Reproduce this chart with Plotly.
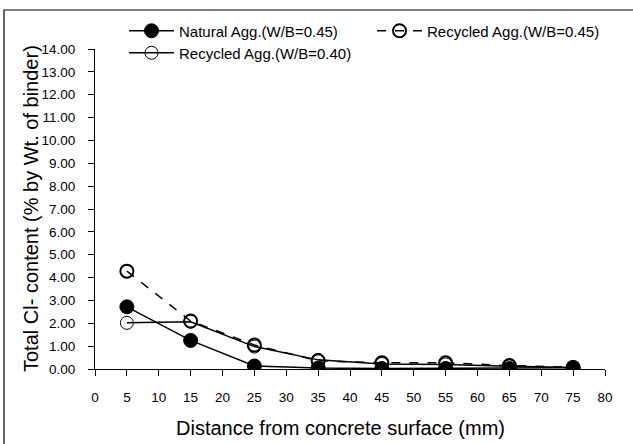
import plotly.graph_objects as go

# Depth of sampling below the concrete surface (mm)
depth_mm = [5, 15, 25, 35, 45, 55, 65, 75]

# Total chloride content (% by weight of binder)
natural_045 = [2.72, 1.25, 0.13, 0.04, 0.02, 0.02, 0.02, 0.05]
recycled_045 = [4.28, 2.10, 1.05, 0.36, 0.27, 0.27, 0.15, 0.07]
recycled_040 = [2.02, 2.07, 0.98, 0.40, 0.22, 0.20, 0.12, 0.07]

x_ticks = list(range(0, 81, 5))
y_ticks = list(range(0, 15))

x_title = "Distance from concrete surface (mm)"
y_title = "Total Cl- content (% by Wt. of binder)"

FONT = "Liberation Sans, Arial, sans-serif"

# figure size and plot-area margins in pixels
W, H = 633, 444
L, R, T, B = 95, 28, 49, 75
PW, PH = W - L - R, H - T - B


def px_x(x):
    """Pixel column -> paper x."""
    return (x - L) / PW


def px_y(y):
    """Pixel row (from top) -> paper y."""
    return (H - B - y) / PH


fig = go.Figure()

fig.add_trace(go.Scatter(
    x=depth_mm, y=natural_045, name="Natural Agg.(W/B=0.45)",
    mode="lines+markers", legend="legend",
    line=dict(color="black", width=1.5),
    marker=dict(symbol="circle", size=14, color="black",
                line=dict(color="black", width=1)),
))
fig.add_trace(go.Scatter(
    x=depth_mm, y=recycled_045, name="Recycled Agg.(W/B=0.45)",
    mode="lines+markers", legend="legend2",
    line=dict(color="black", width=1.5, dash="dash"),
    marker=dict(symbol="circle-open", size=13, color="black",
                line=dict(color="black", width=2)),
))
fig.add_trace(go.Scatter(
    x=depth_mm, y=recycled_040, name="Recycled Agg.(W/B=0.40)",
    mode="lines+markers", legend="legend3",
    line=dict(color="black", width=1.5),
    marker=dict(symbol="circle-open", size=13, color="black",
                line=dict(color="black", width=1)),
))

legend_style = dict(font=dict(family=FONT, size=15, color="black"),
                    bgcolor="rgba(0,0,0,0)", xanchor="left",
                    yanchor="middle", itemwidth=45)

fig.update_layout(
    width=W, height=H,
    margin=dict(l=L, r=R, t=T, b=B),
    paper_bgcolor="white", plot_bgcolor="white",
    font=dict(family=FONT, color="black", size=13.5),
    showlegend=True,
    legend=dict(x=px_x(124), y=px_y(31), **legend_style),
    legend2=dict(x=px_x(372), y=px_y(31), **legend_style),
    legend3=dict(x=px_x(124), y=px_y(53), **legend_style),
    xaxis=dict(
        range=[0, 80], tickvals=x_ticks, ticktext=[str(v) for v in x_ticks],
        showline=True, linecolor="black", linewidth=1,
        ticks="outside", ticklen=6, tickcolor="black",
        showgrid=False, zeroline=False, ticklabelstandoff=10,
        tickfont=dict(family=FONT, size=13.5),
    ),
    yaxis=dict(
        range=[0, 14], tickvals=y_ticks,
        ticktext=[f"{v:.2f}" for v in y_ticks],
        showline=True, linecolor="black", linewidth=1,
        ticks="outside", ticklen=6, tickcolor="black",
        showgrid=False, zeroline=False, ticklabelstandoff=10,
        tickfont=dict(family=FONT, size=13.5),
    ),
    annotations=[
        dict(text=x_title, xref="paper", yref="paper",
             x=px_x(340), y=px_y(428), xanchor="center", yanchor="middle",
             showarrow=False, font=dict(family=FONT, size=20)),
        dict(text=y_title, xref="paper", yref="paper", textangle=-90,
             x=px_x(31), y=px_y(209), xanchor="center", yanchor="middle",
             showarrow=False, font=dict(family=FONT, size=20)),
    ],
    shapes=[dict(
        type="rect", xref="paper", yref="paper",
        x0=px_x(4), x1=px_x(645), y0=px_y(455), y1=px_y(10),
        line=dict(color="black", width=1.2), fillcolor="rgba(0,0,0,0)",
        layer="below",
    )],
)

fig.write_html("out.html")
